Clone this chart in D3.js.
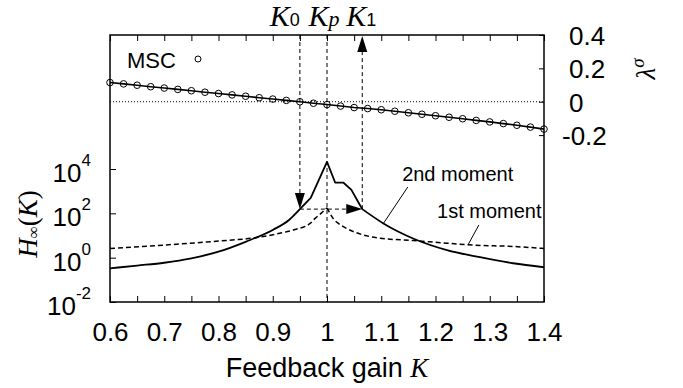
<!DOCTYPE html>
<html>
<head>
<meta charset="utf-8">
<script src="https://cdn.jsdelivr.net/npm/d3@7"></script>
<style>
  body { margin: 0; background: #fff; }
  text { font-family: "Liberation Sans", Arial, sans-serif; fill: #000; }
  .serif { font-family: "Liberation Serif", "Times New Roman", serif; }
</style>
</head>
<body>
<svg id="chart" width="683" height="388"></svg>
<script>
// Feedback gain samples and the MSC exponent lambda^sigma
const mscK = [0.6, 0.625, 0.65, 0.675, 0.7, 0.725, 0.75, 0.775, 0.8, 0.825, 0.85,
              0.875, 0.9, 0.925, 0.95, 0.975, 1.0, 1.025, 1.05, 1.075, 1.1, 1.125,
              1.15, 1.175, 1.2, 1.225, 1.25, 1.275, 1.3, 1.325, 1.35, 1.375, 1.4];
const mscLambda = [0.115, 0.107, 0.099, 0.090, 0.082, 0.074, 0.066, 0.057, 0.049, 0.041, 0.033,
                   0.024, 0.016, 0.008, 0.000, -0.009, -0.017, -0.026, -0.035, -0.041, -0.048, -0.057,
                   -0.066, -0.075, -0.084, -0.093, -0.102, -0.112, -0.121, -0.131, -0.141, -0.152, -0.164];

// H-infinity norm, 2nd moment
const secondK = [0.6, 0.65, 0.7, 0.75, 0.8, 0.85, 0.9, 0.93, 0.95, 0.97, 1.0, 1.015, 1.03,
                 1.045, 1.057, 1.065, 1.104, 1.162, 1.221, 1.282, 1.343, 1.4];
const secondH = [0.33, 0.44, 0.59, 0.93, 1.86, 5.2, 17.8, 50, 155, 500, 21000, 2450, 2450,
                 1150, 340, 155, 35, 6.8, 2.2, 1.05, 0.56, 0.37];

// H-infinity norm, 1st moment
const firstK = [0.6, 0.7, 0.8, 0.867, 0.913, 0.938, 0.969, 0.978, 0.99, 1.0,
                1.012, 1.021, 1.036, 1.067, 1.098, 1.159, 1.221, 1.27, 1.343, 1.4];
const firstH = [2.6, 3.7, 5.6, 7.9, 12.6, 17.8, 35, 59, 105, 178,
                56, 35, 21, 10.5, 7.6, 5.9, 4.5, 3.7, 3.2, 2.6];

// Axis ticks
const xTicks = [0.6, 0.65, 0.7, 0.75, 0.8, 0.85, 0.9, 0.95, 1.0, 1.05, 1.1, 1.15, 1.2, 1.25, 1.3, 1.35, 1.4];
const xTickLabels = ["0.6", "", "0.7", "", "0.8", "", "0.9", "", "1", "", "1.1", "", "1.2", "", "1.3", "", "1.4"];
const hTickExps = [-2, 0, 2, 4];
const lambdaTicks = [0.4, 0.2, 0, -0.2];
const lambdaTickLabels = ["0.4", "0.2", "0", "-0.2"];

// Marked gains: K0, Kp, K1 and the norm level they share
const K0 = 0.95, Kp = 1.0, K1 = 1.065;
const arrowLevel = 155;

const svg = d3.select("#chart");
svg.append("rect").attr("width", 683).attr("height", 388).attr("fill", "#fff");

const pL = 110, pR = 544, pT = 35, pB = 302;
const x = d3.scaleLinear().domain([0.6, 1.4]).range([pL, pR]);
const yH = d3.scaleLog().domain([1e-2, 1e4]).range([pB, 169]);
const yL = d3.scaleLinear().domain([-0.2, 0.4]).range([135.1, pT]);

const plot = svg.append("g");

// zero line for lambda
plot.append("line")
  .attr("x1", pL).attr("x2", pR)
  .attr("y1", yL(0)).attr("y2", yL(0))
  .attr("stroke", "#000").attr("stroke-width", 1)
  .attr("stroke-dasharray", "1,2");

// dashed guide lines at K0, Kp, K1
function dline(x1, y1, x2, y2) {
  return plot.append("line").attr("x1", x1).attr("y1", y1).attr("x2", x2).attr("y2", y2)
    .attr("stroke", "#000").attr("stroke-width", 1).attr("stroke-dasharray", "4,3");
}
const yA = yH(arrowLevel);
dline(x(K0), pT, x(K0), yA - 15);
dline(x(Kp), pT, x(Kp), pB);
dline(x(K1), yA, x(K1), pT + 16);
dline(x(K0), yA, x(K1) - 15, yA);

function tri(points) {
  plot.append("path").attr("d", "M" + points.map(p => p.join(",")).join("L") + "Z").attr("fill", "#000");
}
tri([[x(K0), yA], [x(K0) - 5, yA - 16], [x(K0) + 5, yA - 16]]);
tri([[x(K1), yA], [x(K1) - 16, yA - 5], [x(K1) - 16, yA + 5]]);
tri([[x(K1), pT + 1], [x(K1) - 5, pT + 17], [x(K1) + 5, pT + 17]]);

// H-infinity curves
const secondPts = secondK.map((k, i) => [k, secondH[i]]);
const firstPts = firstK.map((k, i) => [k, firstH[i]]);
const smooth = d3.line().x(d => x(d[0])).y(d => yH(d[1])).curve(d3.curveMonotoneX);
const straight = d3.line().x(d => x(d[0])).y(d => yH(d[1]));

const solidStyle = p => p.attr("fill", "none").attr("stroke", "#000").attr("stroke-width", 1.8).attr("stroke-linejoin", "round");
solidStyle(plot.append("path").attr("d", smooth(secondPts.filter(d => d[0] <= K0))));
solidStyle(plot.append("path").attr("d", straight(secondPts.filter(d => d[0] >= K0 && d[0] <= K1))));
solidStyle(plot.append("path").attr("d", smooth(secondPts.filter(d => d[0] >= K1))));

const dashStyle = p => p.attr("fill", "none").attr("stroke", "#000").attr("stroke-width", 1.5).attr("stroke-dasharray", "5,3");
dashStyle(plot.append("path").attr("d", smooth(firstPts.filter(d => d[0] <= Kp))));
dashStyle(plot.append("path").attr("d", smooth(firstPts.filter(d => d[0] >= Kp))));

// MSC lambda^sigma
const mscPts = mscK.map((k, i) => [k, mscLambda[i]]);
plot.append("path")
  .attr("d", d3.line().x(d => x(d[0])).y(d => yL(d[1]))(mscPts))
  .attr("fill", "none").attr("stroke", "#000").attr("stroke-width", 1.6);
plot.selectAll("circle.msc").data(mscPts).join("circle")
  .attr("class", "msc")
  .attr("cx", d => x(d[0])).attr("cy", d => yL(d[1])).attr("r", 3.3)
  .attr("fill", "none").attr("stroke", "#000").attr("stroke-width", 1);

// axes
const axisStyle = g => {
  g.select(".domain").remove();
  g.selectAll(".tick line").attr("stroke", "#000").attr("stroke-width", 1);
  g.selectAll(".tick text").attr("font-size", 26).attr("fill", "#000")
    .attr("font-family", "Liberation Sans, Arial, sans-serif");
};
svg.append("g").attr("transform", `translate(0,${pB})`)
  .call(d3.axisBottom(x).tickValues(xTicks).tickSizeInner(-6).tickSizeOuter(0).tickPadding(21)
    .tickFormat((d, i) => xTickLabels[i]))
  .call(axisStyle);
svg.append("g").attr("transform", `translate(0,${pT})`)
  .call(d3.axisTop(x).tickValues(xTicks).tickSizeInner(-6).tickSizeOuter(0).tickFormat(""))
  .call(axisStyle);

const leftAxis = svg.append("g").attr("transform", `translate(${pL},0)`)
  .call(d3.axisLeft(yH).tickValues(hTickExps.map(e => Math.pow(10, e))).tickSizeInner(-6).tickSizeOuter(0).tickFormat(""))
  .call(axisStyle);
leftAxis.selectAll(".tick").each(function (d, i) {
  const t = d3.select(this).append("text").attr("x", -19).attr("y", 12.5)
    .attr("text-anchor", "end").attr("fill", "#000");
  t.append("tspan").attr("font-size", 26).text("10");
  t.append("tspan").attr("font-size", 17).attr("dy", -16).text(String(hTickExps[i]));
});

svg.append("g").attr("transform", `translate(${pR},0)`)
  .call(d3.axisRight(yL).tickValues(lambdaTicks).tickSizeInner(-5).tickSizeOuter(0).tickPadding(25)
    .tickFormat((d, i) => lambdaTickLabels[i]))
  .call(axisStyle)
  .call(g => g.selectAll(".tick text").attr("dy", "0.36em")
    .attr("dx", (d, i) => lambdaTickLabels[i].startsWith("-") ? -7 : 0));

// frame
svg.append("rect").attr("x", pL).attr("y", pT).attr("width", pR - pL).attr("height", pB - pT)
  .attr("fill", "none").attr("stroke", "#000").attr("stroke-width", 1.5);

// axis titles
const xt = svg.append("text").attr("x", (pL + pR) / 2).attr("y", 377)
  .attr("text-anchor", "middle").attr("font-size", 27);
xt.append("tspan").text("Feedback gain ");
xt.append("tspan").attr("class", "serif").attr("font-style", "italic").text("K");

const yt = svg.append("text").attr("class", "serif")
  .attr("transform", "translate(37,224) rotate(-90)")
  .attr("text-anchor", "middle").attr("font-size", 27);
yt.append("tspan").attr("font-style", "italic").text("H");
yt.append("tspan").attr("font-size", 17).attr("dy", 2).text("\u221E");
yt.append("tspan").attr("dy", -2).text("(");
yt.append("tspan").attr("font-style", "italic").text("K");
yt.append("tspan").text(")");

const lt = svg.append("text").attr("class", "serif")
  .attr("transform", "translate(655,69) rotate(-90)")
  .attr("text-anchor", "middle").attr("font-size", 27);
lt.append("tspan").attr("font-style", "italic").text("\u03BB");
lt.append("tspan").attr("font-style", "italic").attr("font-size", 19).attr("dy", -11).text("\u03C3");

// gain labels above the frame
function gainLabel(xpos, anchor, sub, subSerif) {
  const t = svg.append("text").attr("x", xpos).attr("y", 26).attr("text-anchor", anchor);
  t.append("tspan").attr("class", "serif").attr("font-style", "italic").attr("font-size", 30).text("K");
  const s = t.append("tspan").text(sub);
  if (subSerif) s.attr("class", "serif").attr("font-style", "italic").attr("font-size", 22);
  else s.attr("font-size", 18);
}
gainLabel(x(K0), "end", "0", false);
gainLabel(x(Kp) - 3, "middle", "p", true);
gainLabel(x(K1) - 1, "middle", "1", false);

// legend
svg.append("text").attr("x", 127).attr("y", 68).attr("font-size", 22).text("MSC");
svg.append("circle").attr("cx", 198).attr("cy", 59).attr("r", 3)
  .attr("fill", "none").attr("stroke", "#000").attr("stroke-width", 1);

// curve annotations
svg.append("text").attr("x", x(1.1385)).attr("y", 181).attr("font-size", 20).text("2nd moment");
svg.append("line").attr("x1", x(1.149)).attr("y1", yH(1550)).attr("x2", x(1.104)).attr("y2", yH(35))
  .attr("stroke", "#000").attr("stroke-width", 1);
svg.append("text").attr("x", x(1.2028)).attr("y", 218).attr("font-size", 20).text("1st moment");
svg.append("line").attr("x1", x(1.28)).attr("y1", yH(30)).attr("x2", x(1.26)).attr("y2", yH(3.8))
  .attr("stroke", "#000").attr("stroke-width", 1);
</script>
</body>
</html>
